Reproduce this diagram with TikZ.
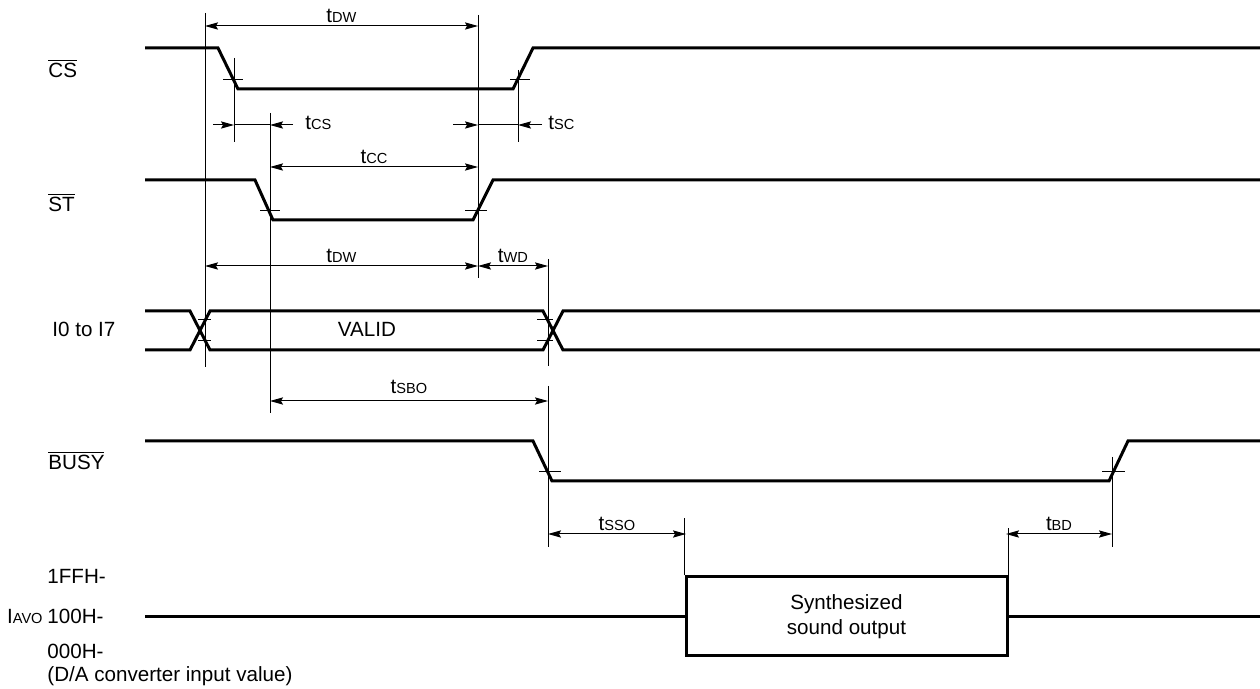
\documentclass[tikz,border=0pt]{standalone}
\usepackage{fontspec}
\setmainfont{Liberation Sans}
\usetikzlibrary{arrows.meta}
\newcommand{\tsub}[1]{t{\fontsize{7.3}{8}\selectfont #1}}
\newcommand{\ovl}[1]{$\overline{\mbox{#1}}$}

\begin{document}
\begin{tikzpicture}[
  x=0.5pt, y=-0.5pt,
  sig/.style={line width=1.5pt, line join=miter},
  thin/.style={line width=0.5pt},
  dim/.style={thin, {Stealth[length=6.5pt,width=3.6pt,inset=1pt]}-{Stealth[length=6.5pt,width=3.6pt,inset=1pt]}},
  dimr/.style={thin, -{Stealth[length=6.5pt,width=3.6pt,inset=1pt]}},
  lbl/.style={anchor=base west, inner sep=0pt, font=\fontsize{10.3}{12.4}\selectfont},
  tlbl/.style={above, inner sep=1.5pt, font=\fontsize{10.3}{12.4}\selectfont}
]
\useasboundingbox (0,0) rectangle (1260,689);

% signal names
\node[lbl] (lcs)   at (48,78)  {\ovl{CS}};
\node[lbl] (lst)   at (48,212) {\ovl{ST}};
\node[lbl] (ldat)  at (52,337) {I0 to I7};
\node[lbl] (lbusy) at (48,470) {\ovl{BUSY}};
\node[lbl] (lhi)   at (47,584) {1FFH-};
\node[lbl] (lmid)  at (47,624) {100H-};
\node[lbl, anchor=base east] (liavo) at (43,624) {I{\fontsize{7.3}{8}\selectfont AVO}};
\node[lbl] (llo)   at (47,659) {000H-};
\node[lbl] (lda)   at (47,682) {(D/A converter input value)};

% waveforms
\draw[sig] (145,48) -- (218,48) -- (238,89) -- (513,89) -- (533,48) -- (1260,48);
\draw[sig] (145,180) -- (255,180) -- (273,220) -- (473,220) -- (493,180) -- (1260,180);
\draw[sig] (145,311) -- (190,311) -- (210,350) -- (543,350) -- (563,311) -- (1260,311);
\draw[sig] (145,350) -- (190,350) -- (210,311) -- (543,311) -- (563,350) -- (1260,350);
\node[lbl, anchor=base] (valid) at (367,337) {VALID};
\draw[sig] (145,441) -- (533,441) -- (552,481) -- (1109,481) -- (1128,441) -- (1260,441);
\node[draw, sig, minimum width=160.5pt, minimum height=39.5pt, inner sep=0pt,
  align=center, font=\fontsize{10.3}{12.4}\selectfont] (snd) at (846.5,616.5)
  {Synthesized\\sound output};
\draw[sig] (145,616.5) -- (snd.west);
\draw[sig] (snd.east) -- (1260,616.5);

% level ticks
\draw[thin] (223,80) -- (243,80);
\draw[thin] (510,80) -- (530,80);
\draw[thin] (260,211) -- (280,211);
\draw[thin] (465,211) -- (487,211);
\draw[thin] (198,320) -- (211,320);
\draw[thin] (198,341) -- (211,341);
\draw[thin] (537,320) -- (553,320);
\draw[thin] (537,341) -- (553,341);
\draw[thin] (539,472) -- (561,472);
\draw[thin] (1102,472) -- (1125,472);

% reference lines
\draw[thin] (205,13) -- (205,367);
\draw[thin] (234,58) -- (234,142);
\draw[thin] (270,113) -- (270,413);
\draw[thin] (478,15) -- (478,278);
\draw[thin] (518,70) -- (518,142);
\draw[thin] (548,259) -- (548,366);
\draw[thin] (548,386) -- (548,547);
\draw[thin] (snd.north west) -- ++(0,-57);
\draw[thin] (snd.north east) -- ++(0,-47);
\draw[thin] (1112,457) -- (1112,547);

% timing dimensions
\draw[dim] (205,26) -- node[tlbl]{\tsub{DW}} (478,26);
\draw[dimr] (213,125) -- (234,125);
\draw[thin] (234,125) -- (270,125);
\draw[dimr] (293,125) -- (270,125);
\node[lbl, anchor=west] (tcs) at (305,123) {\tsub{CS}};
\draw[dimr] (453,125) -- (478,125);
\draw[thin] (478,125) -- (518,125);
\draw[dimr] (542,125) -- (518,125);
\node[lbl, anchor=west] (tsc) at (548,123) {\tsub{SC}};
\draw[dim] (270,167) -- node[tlbl]{\tsub{CC}} (478,167);
\draw[dim] (205,266) -- node[tlbl]{\tsub{DW}} (478,266);
\draw[dim] (478,266) -- node[tlbl]{\tsub{WD}} (548,266);
\draw[dim] (270,401) -- node[tlbl, yshift=2pt]{\tsub{SBO}} (548,401);
\draw[dim] (548,534) -- node[tlbl]{\tsub{SSO}} (686,534);
\draw[dim] (1006,534) -- node[tlbl]{\tsub{BD}} (1112,534);
\end{tikzpicture}
\end{document}
